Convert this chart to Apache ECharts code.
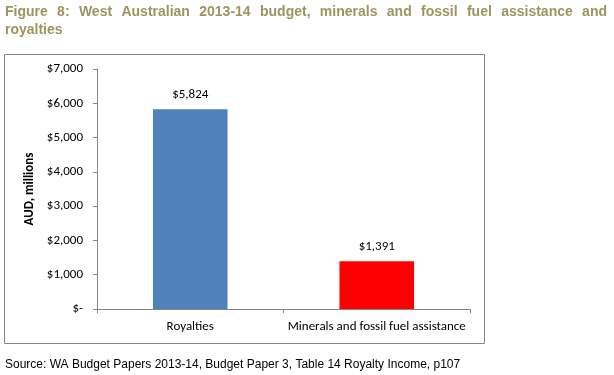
<!DOCTYPE html>
<html><head><meta charset="utf-8">
<script src="https://cdn.jsdelivr.net/npm/echarts@6/dist/echarts.min.js"></script>
<style>html,body{margin:0;padding:0;background:#fff}#c{width:614px;height:375px}</style>
</head><body><div id="c"></div>
<script>
const categories = ["Royalties", "Minerals and fossil fuel assistance"];
const values = [5824, 1391];
const barColors = ["#4F81BD", "#FF0000"];
const yTicks = [0, 1000, 2000, 3000, 4000, 5000, 6000, 7000];
const titleLines = ["Figure 8: West Australian 2013-14 budget, minerals and fossil fuel assistance and", "royalties"];
const sourceText = "Source: WA Budget Papers 2013-14, Budget Paper 3, Table 14 Royalty Income, p107";
const yName = "AUD, millions";

const fmt = v => v === 0 ? "$-" : "$" + v.toLocaleString("en-US");
const F = "Carlito, Lato, sans-serif";
const TF = 'bold 14px "Liberation Sans", Arial, sans-serif';

// justified first title line
const ctx = document.createElement('canvas').getContext('2d');
ctx.font = TF;
const words = titleLines[0].split(' ');
const widths = words.map(w => ctx.measureText(w).width);
const totalW = widths.reduce((a, b) => a + b, 0);
const lineL = 5, lineR = 607;
const gap = (lineR - lineL - totalW) / (words.length - 1);
const titleEls = [];
let x = lineL;
words.forEach((w, i) => {
  titleEls.push({type: 'text', left: x, top: 5, style: {text: w, font: TF, fill: '#9C955E'}});
  x += widths[i] + gap;
});
titleEls.push({type: 'text', left: lineL, top: 23, style: {text: titleLines[1], font: TF, fill: '#9C955E'}});

const chart = echarts.init(document.getElementById('c'), null, {renderer: 'canvas'});
chart.setOption({
  animation: false,
  graphic: titleEls.concat([
    {type: 'rect', shape: {x: 4.5, y: 54.5, width: 480, height: 289}, style: {fill: 'none', stroke: '#868686', lineWidth: 1}, z: -1},
    {type: 'text', left: 5, top: 359, style: {text: sourceText, font: '12px "Liberation Sans", Arial, sans-serif', fill: '#000'}}
  ]),
  grid: {left: 97, right: 144, top: 69, bottom: 66},
  xAxis: {
    type: 'category', data: categories,
    axisLine: {lineStyle: {color: '#868686'}},
    axisTick: {show: true, length: 4, lineStyle: {color: '#868686'}},
    axisLabel: {interval: 0, color: '#000', fontFamily: F, fontSize: 13, margin: 11}
  },
  yAxis: {
    type: 'value', min: 0, max: 7000, interval: 1000,
    name: yName, nameLocation: 'middle', nameGap: 60,
    nameTextStyle: {fontFamily: F, fontSize: 13, fontWeight: 'bold', color: '#000'},
    axisLine: {show: true, lineStyle: {color: '#868686'}},
    axisTick: {show: true, length: 4, lineStyle: {color: '#868686'}},
    splitLine: {show: false},
    axisLabel: {color: '#000', fontFamily: F, fontSize: 13, margin: 14, formatter: v => yTicks.includes(v) ? fmt(v) : ''}
  },
  series: [{
    type: 'bar', barWidth: '40%',
    data: values.map((v, i) => ({value: v, itemStyle: {color: barColors[i]}})),
    label: {show: true, position: 'top', distance: 8, color: '#000', fontFamily: F, fontSize: 13, formatter: p => fmt(p.value)}
  }]
});
</script></body></html>
